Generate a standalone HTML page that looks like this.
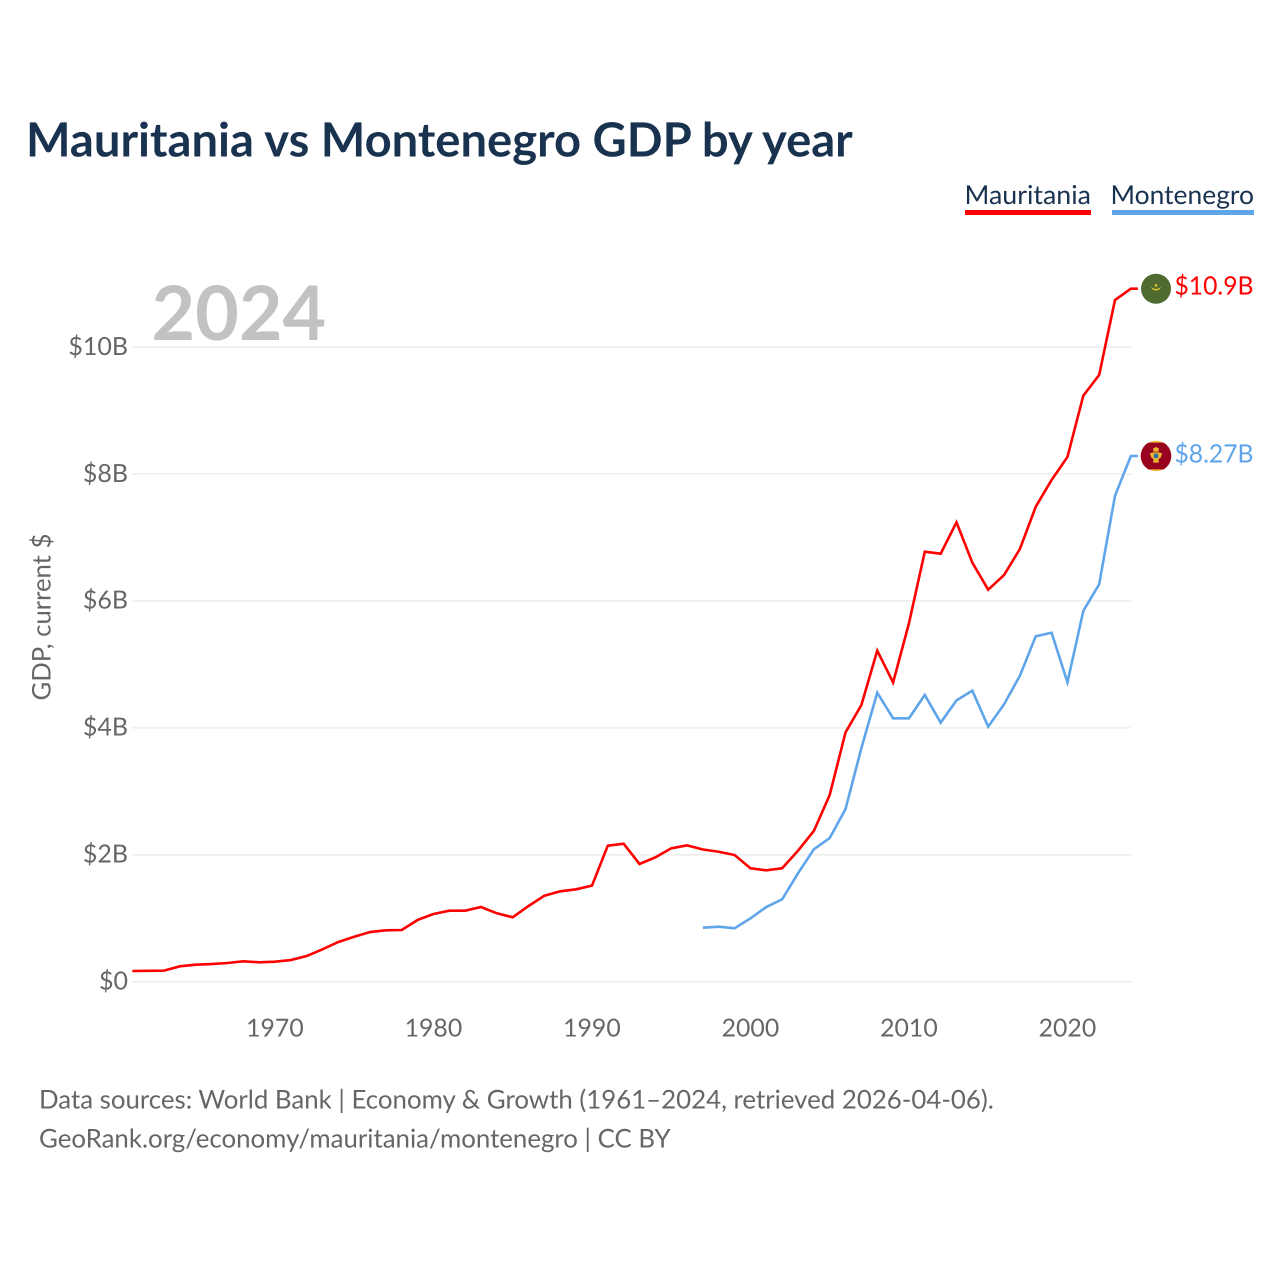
<!DOCTYPE html>
<html lang="en">
<head>
<meta charset="utf-8">
<title>Mauritania vs Montenegro GDP by year</title>
<style>
  html, body { margin: 0; padding: 0; background: #ffffff; }
  svg { display: block; }
  text { font-family: "Lato", "Carlito", "Liberation Sans", sans-serif; text-rendering: geometricPrecision; }
</style>
</head>
<body>
<svg id="chart" xmlns="http://www.w3.org/2000/svg" width="1280" height="1280" viewBox="0 0 1280 1280">
  <defs>
    <clipPath id="montenegro-clip"><circle cx="0" cy="0" r="15.3"/></clipPath>
  </defs>
  <rect x="0" y="0" width="1280" height="1280" fill="#ffffff"/>
  <text x="26" y="156.5" font-size="47.15" font-weight="700" fill="#18324f">Mauritania vs Montenegro GDP by year</text>

  <g>
    <g>
      <text x="964.5" y="204" font-size="26" fill="#18324f" textLength="126.5" lengthAdjust="spacingAndGlyphs">Mauritania</text>
      <rect x="965" y="210" width="126" height="5" fill="#ff0000"/>
    </g>
    <g>
      <text x="1110.5" y="204" font-size="26" fill="#18324f" textLength="143.5" lengthAdjust="spacingAndGlyphs">Montenegro</text>
      <rect x="1112" y="210" width="142" height="5" fill="#5fa5ea"/>
    </g>
  </g>

  <g id="grid"></g>
  <g id="y-ticks"></g>
  <g id="x-ticks"></g>

  <text x="151.5" y="340" font-size="75.3" font-weight="700" fill="#c2c2c2">2024</text>

  <text transform="translate(50.5,700.5) rotate(-90)" font-size="25.7" fill="#666666">GDP, current $</text>

  <g id="series"></g>

  <g id="flag-mauritania">
    <circle cx="0" cy="0" r="15" fill="#4f6b30"/>
    <path d="M-5.2,-1.8 A5.6,5.6 0 0 0 5.2,-1.8 A6.2,4.2 0 0 1 -5.2,-1.8 Z" fill="#ecc92c"/>
    <circle cx="0" cy="-3.4" r="1.3" fill="#e3c22c"/>
  </g>
  <g id="flag-montenegro">
    <g clip-path="url(#montenegro-clip)">
      <rect x="-16" y="-16" width="32" height="32" fill="#f0c53c"/>
      <rect x="-16" y="-13.4" width="32" height="26.8" fill="#98041f"/>
    </g>
    <path d="M-2.6,-4.4 L-2.8,-7.6 L0,-9 L2.8,-7.6 L2.6,-4.4 Z" fill="#e7b52f"/>
    <path d="M-6.2,-2.6 L-2.6,-3.6 L2.6,-3.6 L6.2,-2.6 L4.6,1.8 L2.4,3.4 L3,6.6 L-3,6.6 L-2.4,3.4 L-4.6,1.8 Z" fill="#e7b52f"/>
    <rect x="-2.1" y="-2.2" width="4.2" height="4.2" fill="#2a6fa8"/>
  </g>

  <text id="label-mauritania" x="1253.5" text-anchor="end" font-size="25.3" fill="#ff0000" textLength="79" lengthAdjust="spacingAndGlyphs">$10.9B</text>
  <text id="label-montenegro" x="1253.5" text-anchor="end" font-size="25.3" fill="#5fa5ea" textLength="79" lengthAdjust="spacingAndGlyphs">$8.27B</text>

  <text x="39" y="1108.5" font-size="25.83" fill="#666666">Data sources: World Bank | Economy &amp; Growth (1961–2024, retrieved 2026-04-06).</text>
  <text x="39" y="1147.5" font-size="25.83" fill="#666666">GeoRank.org/economy/mauritania/montenegro | CC BY</text>
</svg>

<script>
const mauritaniaStartYear = 1961;
const montenegroStartYear = 1997;
const mauritaniaGdp = [0.170,0.173,0.176,0.244,0.269,0.280,0.296,0.323,0.307,0.317,0.343,0.406,0.512,0.627,0.710,0.784,0.811,0.816,0.974,1.068,1.120,1.120,1.178,1.079,1.016,1.194,1.356,1.426,1.457,1.514,2.144,2.175,1.856,1.961,2.103,2.150,2.084,2.049,1.997,1.788,1.756,1.788,2.065,2.376,2.943,3.930,4.360,5.216,4.715,5.647,6.775,6.744,7.238,6.602,6.177,6.408,6.818,7.484,7.905,8.267,9.233,9.559,10.740,10.918];
const montenegroGdp = [0.852,0.868,0.843,1.000,1.178,1.300,1.709,2.087,2.265,2.722,3.683,4.554,4.151,4.151,4.518,4.082,4.434,4.586,4.019,4.371,4.822,5.443,5.499,4.718,5.841,6.262,7.657,8.283];
const yTickValues = [0, 2, 4, 6, 8, 10];
const yTickLabels = ["$0", "$2B", "$4B", "$6B", "$8B", "$10B"];
const xTickYears = [1970, 1980, 1990, 2000, 2010, 2020];

const SVG_NS = "http://www.w3.org/2000/svg";
function xScale(year) { return 132.3 + (year - 1961) * 15.85; }
function yScale(value) { return 981.8 - value * 63.48; }

function buildPath(values, startYear) {
  let d = "";
  values.forEach(function (v, i) {
    d += (i === 0 ? "M" : "L") + xScale(startYear + i).toFixed(2) + "," + yScale(v).toFixed(2);
  });
  const last = values[values.length - 1];
  d += "L" + (xScale(startYear + values.length - 1) + 7).toFixed(2) + "," + yScale(last).toFixed(2);
  return d;
}

const gridGroup = document.getElementById("grid");
const yTickGroup = document.getElementById("y-ticks");
yTickValues.forEach(function (v, i) {
  const line = document.createElementNS(SVG_NS, "line");
  
  
  line.setAttribute("x1", xScale(1961));
  line.setAttribute("x2", xScale(2024));
  line.setAttribute("y1", yScale(v));
  line.setAttribute("y2", yScale(v));
  line.setAttribute("stroke", "#eeeeee");
  line.setAttribute("stroke-width", "1.6");
  gridGroup.appendChild(line);

  const label = document.createElementNS(SVG_NS, "text");
  
  
  label.setAttribute("x", 128);
  label.setAttribute("y", yScale(v) + 7.8);
  label.setAttribute("text-anchor", "end");
  label.setAttribute("font-size", "25");
  label.setAttribute("fill", "#666666");
  label.textContent = yTickLabels[i];
  yTickGroup.appendChild(label);
});

const xTickGroup = document.getElementById("x-ticks");
xTickYears.forEach(function (year) {
  const label = document.createElementNS(SVG_NS, "text");
  
  
  label.setAttribute("x", xScale(year));
  label.setAttribute("y", 1036.5);
  label.setAttribute("text-anchor", "middle");
  label.setAttribute("font-size", "24.8");
  label.setAttribute("fill", "#666666");
  label.textContent = String(year);
  xTickGroup.appendChild(label);
});

const seriesGroup = document.getElementById("series");

const redLine = document.createElementNS(SVG_NS, "path");


redLine.setAttribute("d", buildPath(mauritaniaGdp, mauritaniaStartYear));
redLine.setAttribute("fill", "none");
redLine.setAttribute("stroke", "#ff0000");
redLine.setAttribute("stroke-width", "2.6");
redLine.setAttribute("stroke-linejoin", "miter");
seriesGroup.appendChild(redLine);

const blueLine = document.createElementNS(SVG_NS, "path");


blueLine.setAttribute("d", buildPath(montenegroGdp, montenegroStartYear));
blueLine.setAttribute("fill", "none");
blueLine.setAttribute("stroke", "#5fa5ea");
blueLine.setAttribute("stroke-width", "2.6");
blueLine.setAttribute("stroke-linejoin", "miter");
seriesGroup.appendChild(blueLine);

const mauritaniaLastY = yScale(mauritaniaGdp[mauritaniaGdp.length - 1]);
const montenegroLastY = yScale(montenegroGdp[montenegroGdp.length - 1]);
document.getElementById("flag-mauritania").setAttribute("transform", "translate(1156," + mauritaniaLastY + ")");
document.getElementById("flag-montenegro").setAttribute("transform", "translate(1156," + montenegroLastY + ")");
document.getElementById("label-mauritania").setAttribute("y", mauritaniaLastY + 5.8);
document.getElementById("label-montenegro").setAttribute("y", montenegroLastY + 6.3);
</script>
</body>
</html>
